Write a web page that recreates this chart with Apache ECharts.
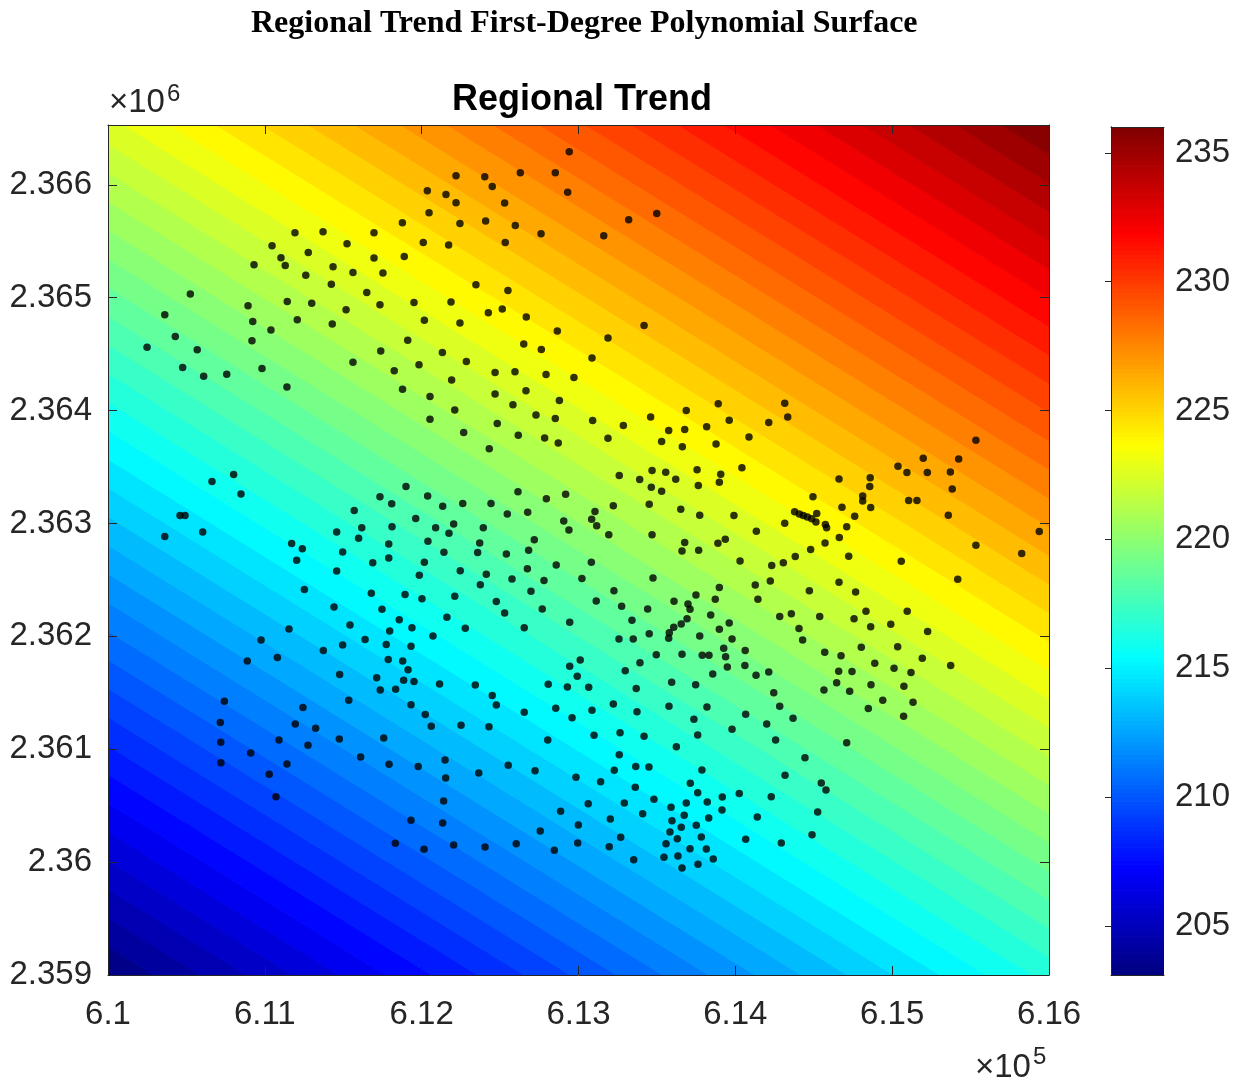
<!DOCTYPE html>
<html>
<head>
<meta charset="utf-8">
<title>Regional Trend</title>
<script src="https://cdn.jsdelivr.net/npm/echarts@6/dist/echarts.min.js"></script>
<style>
html,body{margin:0;padding:0;background:#fff;}
#chart{width:1241px;height:1084px;}
</style>
</head>
<body>
<div id="chart"></div>
<script>
// sample locations (easting, northing in metres)
var pointsNorth = [
  [612036,2365947],[612047,2365752],[611877,2365663],[612010,2365489],[611889,2365365],[611192,2365575],[611371,2365584],[611696,2365575],
  [611046,2365460],[611277,2365400],[611524,2365477],[611103,2365353],[611130,2365285],[610931,2365291],[611435,2365274],[611696,2365351],
  [611562,2365223],[611753,2365218],[611261,2365200],[611424,2365120],[611650,2365046],[610525,2365032],[610893,2364928],[611143,2364966],
  [611299,2364952],[611518,2364893],[611734,2364937],[611951,2364957],[610362,2364848],[610923,2364789],[611207,2364804],[611430,2364766],
  [612017,2364801],[610429,2364656],[611039,2364715],[610918,2364618],[611911,2364624],[610249,2364562],[610569,2364538],[611739,2364527],
  [610476,2364381],[610610,2364305],[610757,2364323],[610982,2364372],[611562,2364429],[611825,2364352],[611983,2364405],[611141,2364210],
  [611878,2364188],
  [612941,2366293],[612219,2366080],[612402,2366071],[612450,2365985],[612629,2366107],[612852,2366107],[612931,2365935],[612155,2365914],
  [612219,2365841],[612529,2365838],[612244,2365657],[612408,2365679],[612597,2365639],[612761,2365566],[613320,2365690],[613499,2365746],
  [613161,2365548],[612172,2365466],[612533,2365489],[612346,2365114],[612550,2365064],[612187,2364961],[612425,2364866],[612514,2364899],
  [612667,2364828],[612244,2364777],[613418,2364753],[612865,2364706],[613188,2364644],[612651,2364591],[612763,2364541],[612132,2364514],
  [612285,2364434],[613086,2364465],[612468,2364337],[612595,2364343],[612793,2364319],[612971,2364293],[612191,2364272],[612665,2364175]
];
var pointsMiddle = [
  [612053,2364124],[612053,2363924],[610663,2363371],[610801,2363433],[610848,2363262],[610459,2363070],[610491,2363070],[610362,2362884],
  [610604,2362925],[611900,2363327],[611734,2363236],[611809,2363174],[612038,2363244],[611570,2363114],[611962,2363043],[611618,2362963],
  [611811,2362970],[612089,2362963],[611458,2362925],[611598,2362870],[612040,2362843],[611171,2362822],[611239,2362775],[611790,2362819],
  [611496,2362748],[611203,2362675],[611688,2362653],[611790,2362695],[612017,2362657],[611458,2362580],[611985,2362542],[611252,2362414],
  [611679,2362382],[611894,2362370],[612002,2362334],[611441,2362261],[611747,2362240],[611857,2362148],[611154,2362066],[611543,2362101],
  [611796,2362048],[611938,2362077],[612072,2362004],[610976,2361968],[611639,2361973],
  [612468,2364146],[612582,2364051],[612878,2364089],[612211,2364006],[612729,2363960],[612852,2363929],[612482,2363885],[613090,2363912],
  [613460,2363944],[613687,2364000],[613891,2364060],[613961,2363915],[613286,2363867],[613575,2363823],[613677,2363832],[613817,2363856],
  [614087,2363765],[612268,2363805],[612616,2363782],[612784,2363758],[612871,2363714],[613188,2363756],[613530,2363726],[613662,2363679],
  [613877,2363703],[612431,2363661],[614042,2363493],[613260,2363424],[613390,2363389],[613469,2363469],[613556,2363454],[613620,2363392],
  [613756,2363475],[613907,2363437],[613898,2363366],[613764,2363336],[613464,2363321],[613530,2363286],[612614,2363280],[612918,2363259],
  [612795,2363218],[612134,2363153],[612262,2363176],[612442,2363176],[613222,2363156],[613451,2363171],[612546,2363085],[612676,2363100],
  [613105,2363105],[613084,2363038],[612906,2363023],[613652,2363127],[613773,2363073],[613991,2363070],[612204,2362996],[612174,2362914],
  [612393,2362963],[612939,2362943],[613116,2362979],[613193,2362899],[613469,2362899],[612718,2362855],[612370,2362828],[612142,2362745],
  [612357,2362742],[612540,2362730],[612682,2362763],[613677,2362831],[613889,2362825],[613936,2362861],[613660,2362757],[613766,2362763],
  [614030,2362668],[613082,2362657],[612858,2362633],[612674,2362598],[612246,2362582],[612412,2362551],[612374,2362458],[612576,2362509],
  [612780,2362494],[613022,2362512],[613475,2362518],[612697,2362400],[612211,2362356],[613226,2362405],[613898,2362432],[613749,2362367],
  [612476,2362308],[613113,2362314],[613609,2362311],[613698,2362287],[613711,2362240],[613872,2362329],[612529,2362208],[612769,2362243],
  [613275,2362267],[613441,2362243],[613692,2362157],[613843,2362190],[612161,2362170],[613341,2362143],[613655,2362110],[613607,2362081],
  [613961,2362119],[612278,2362072],[612654,2362077],[612944,2362125],[613898,2362063],[613451,2362022],[613579,2362033],[613575,2361984],
  [613258,2361977],[613349,2361977],[613773,2362004],[613979,2361977],
  [614315,2364066],[614334,2363944],[614213,2363894],[615534,2363738],[615198,2363578],[615424,2363572],[615037,2363508],[615094,2363451],
  [615224,2363451],[615371,2363457],[615383,2363306],[614661,2363395],[614860,2363404],[614857,2363327],[614495,2363236],[614812,2363244],
  [614812,2363200],[615105,2363203],[615158,2363203],[614680,2363144],[614863,2363141],[615358,2363073],[614378,2363103],[614408,2363085],
  [614433,2363070],[614459,2363058],[614487,2363041],[614514,2363014],[614519,2363088],[614574,2362990],[614582,2362963],[614761,2363065],
  [614315,2363003],[614134,2362932],[614710,2362970],[615938,2362928],[614663,2362875],[614572,2362828],[615534,2362808],[615826,2362733],
  [614480,2362769],[614382,2362707],[614723,2362710],[615058,2362666],[614306,2362651],[614232,2362627],[614127,2362456],[614223,2362491],
  [614661,2362480],[615418,2362506],[614472,2362405],[614767,2362394],[614144,2362329],[614833,2362223],[615096,2362223],[614357,2362201],
  [614283,2362175],[614538,2362175],[614757,2362155],[614991,2362108],[614863,2362086],[614406,2362069],[615226,2362042],[614429,2361968]
];
var pointsSouth = [
  [611774,2361927],[611932,2361913],[611496,2361924],[611373,2361874],[610888,2361782],[611080,2361812],[611787,2361794],[611879,2361782],
  [611913,2361705],[611477,2361661],[611713,2361634],[611885,2361611],[611951,2361599],[612114,2361579],[611736,2361525],[611834,2361532],
  [611535,2361434],[611932,2361395],[612023,2361307],[612061,2361204],[610742,2361425],[611243,2361369],[610716,2361236],[611194,2361224],
  [611324,2361186],[610719,2361062],[611090,2361082],[611275,2361035],[611475,2361091],[611758,2361100],[610910,2360967],[610720,2360881],
  [611141,2360870],[611611,2360932],[611792,2360867],[611978,2360846],[611028,2360778],[611071,2360580],[611932,2360371],[611832,2360167],
  [612015,2360114],
  [613926,2361895],[614063,2361874],[613496,2361838],[613660,2361842],[613789,2361833],[613832,2361833],[613938,2361820],[613949,2361729],
  [614061,2361741],[613011,2361791],[613392,2361767],[612944,2361735],[613298,2361696],[612992,2361647],[613856,2361667],[612342,2361570],
  [612807,2361576],[612929,2361552],[613065,2361549],[613368,2361537],[613594,2361594],[613747,2361572],[612450,2361475],[612476,2361392],
  [612654,2361328],[612855,2361363],[613086,2361345],[613222,2361401],[613373,2361333],[613577,2361381],[613819,2361375],[614066,2361310],
  [612959,2361280],[613736,2361266],[612251,2361213],[612429,2361200],[613099,2361124],[613265,2361147],[613418,2361115],[613760,2361127],
  [613979,2361177],[612804,2361082],[613624,2361023],[613260,2360952],[612149,2360905],[612153,2360746],[612364,2360790],[612552,2360858],
  [612723,2360810],[612984,2360752],[613141,2360713],[613228,2360814],[613365,2360846],[613449,2360843],[613787,2360817],[613362,2360663],
  [613713,2360699],[613760,2360615],[613917,2360577],[614025,2360607],[612140,2360542],[613062,2360518],[613292,2360524],[613481,2360557],
  [613590,2360486],[613687,2360524],[613821,2360533],[613915,2360462],[612886,2360451],[613409,2360429],[613674,2360415],[613830,2360391],
  [612134,2360347],[613203,2360382],[613596,2360367],[612999,2360329],[613655,2360309],[613751,2360326],[612756,2360276],[613583,2360267],
  [613269,2360220],[613630,2360208],[613783,2360223],[614066,2360202],[612204,2360152],[612404,2360134],[612603,2360163],[612995,2360170],
  [613196,2360137],[613558,2360163],[613711,2360119],[613815,2360116],[612846,2360105],[613545,2360043],[613634,2360054],[613859,2360028],
  [613352,2360022],[613660,2359948],[613762,2359981],
  [614570,2361859],[614674,2361829],[614803,2361904],[615035,2361909],[615192,2361806],[615373,2361741],[614889,2361762],[615012,2361718],
  [615120,2361679],[614659,2361691],[614744,2361688],[614132,2361656],[614213,2361685],[614646,2361590],[614565,2361525],[614729,2361514],
  [614865,2361572],[615075,2361558],[614245,2361501],[614940,2361434],[615133,2361416],[614283,2361381],[614368,2361275],[614848,2361360],
  [615073,2361292],[614200,2361224],[614257,2361082],[614710,2361058],[614444,2360925],[614317,2360770],[614548,2360701],[614578,2360639],
  [614229,2360580],[614140,2360400],[614525,2360444],[614489,2360243],[614293,2360170]
];

// first-degree trend surface: z = base + sx*(x - x0) + sy*(y - y0)
var trendOrigin = [610000, 2359000];
var trendBase = 203.1;
var trendSlopeX = 0.002233;
var trendSlopeY = 0.002592;

var xExtent = [610000, 616000];
var yExtent = [2359000, 2366530];
var xTicks = [610000, 611000, 612000, 613000, 614000, 615000, 616000];
var yTicks = [2359000, 2360000, 2361000, 2362000, 2363000, 2364000, 2365000, 2366000];
var colorExtent = [203.1, 236.0];
var colorTicks = [205, 210, 215, 220, 225, 230, 235];
var levelCount = 50;
var jetColors = ['#00007f', '#0000ff', '#007fff', '#00ffff', '#7fff7f', '#ffff00', '#ff7f00', '#ff0000', '#7f0000'];

var ink = '#262626';
var sansFont = '"Liberation Sans", Arial, sans-serif';

function trend(p) {
  return trendBase + trendSlopeX * (p[0] - trendOrigin[0]) + trendSlopeY * (p[1] - trendOrigin[1]);
}

// keep the part of a polygon where f >= 0
function clipPoly(poly, f) {
  var out = [];
  for (var i = 0; i < poly.length; i++) {
    var p = poly[i], q = poly[(i + 1) % poly.length];
    var fp = f(p), fq = f(q);
    if (fp >= 0) out.push(p);
    if ((fp >= 0) !== (fq >= 0)) {
      var t = fp / (fp - fq);
      out.push([p[0] + t * (q[0] - p[0]), p[1] + t * (q[1] - p[1])]);
    }
  }
  return out;
}

var bandData = [];
var step = (colorExtent[1] - colorExtent[0]) / levelCount;
for (var k = 0; k < levelCount; k++) {
  var lo = colorExtent[0] + k * step;
  var hi = (k === levelCount - 1) ? colorExtent[1] + 5 : lo + step;
  bandData.push([k === 0 ? lo - 5 : lo, hi, lo + step / 2]);
}

var barData = [];
var barSteps = 200;
var barStep = (colorExtent[1] - colorExtent[0]) / barSteps;
for (var j = 0; j < barSteps; j++) {
  var b0 = colorExtent[0] + j * barStep;
  barData.push([b0, b0 + barStep, b0 + barStep / 2]);
}

var allPoints = pointsNorth.concat(pointsMiddle, pointsSouth);

var myChart = echarts.init(document.getElementById('chart'));

function boxAxis(extra) {
  var base = {
    type: 'value',
    z: 10,
    splitLine: { show: false },
    axisLine: { show: true, lineStyle: { color: ink, width: 1 } },
    axisTick: { show: true, inside: true, length: 9, lineStyle: { color: ink, width: 1 } },
    axisLabel: { show: false }
  };
  return Object.assign(base, extra);
}

var labelStyle = { color: ink, fontSize: 33, fontFamily: sansFont };

option = {
  animation: false,
  backgroundColor: '#ffffff',
  title: [
    {
      text: 'Regional Trend First-Degree Polynomial Surface',
      left: 251, top: 8, padding: 0,
      textStyle: { fontFamily: '"Liberation Serif", "Times New Roman", serif', fontWeight: 'bold', fontSize: 32, color: '#000' }
    },
    {
      text: 'Regional Trend',
      left: 577, top: 77, textAlign: 'center',
      textStyle: { fontFamily: sansFont, fontWeight: 'bold', fontSize: 36, color: '#000' }
    }
  ],
  graphic: [
    { type: 'text', left: 109, top: 86, style: { text: '×10', fontSize: 33, fontFamily: sansFont, fill: ink } },
    { type: 'text', left: 167, top: 82, style: { text: '6', fontSize: 24, fontFamily: sansFont, fill: ink } },
    { type: 'text', left: 975, top: 1051, style: { text: '×10', fontSize: 33, fontFamily: sansFont, fill: ink } },
    { type: 'text', left: 1033, top: 1045, style: { text: '5', fontSize: 24, fontFamily: sansFont, fill: ink } }
  ],
  grid: [
    { left: 108, top: 125, width: 941, height: 850 },
    { left: 1111, top: 127, width: 53, height: 848 }
  ],
  xAxis: [
    boxAxis({
      gridIndex: 0, position: 'bottom', min: xExtent[0], max: xExtent[1], interval: 1000,
      axisLabel: Object.assign({ show: true, margin: 23, formatter: function (v) { return String(+(v / 1e5).toFixed(2)); } }, labelStyle)
    }),
    boxAxis({ gridIndex: 0, position: 'top', min: xExtent[0], max: xExtent[1], interval: 1000 }),
    boxAxis({ gridIndex: 1, position: 'bottom', min: 0, max: 1, axisTick: { show: false } }),
    boxAxis({ gridIndex: 1, position: 'top', min: 0, max: 1, axisTick: { show: false } })
  ],
  yAxis: [
    boxAxis({
      gridIndex: 0, position: 'left', min: yExtent[0], max: yExtent[1],
      axisTick: { show: true, inside: true, length: 9, customValues: yTicks, lineStyle: { color: ink } },
      axisLabel: Object.assign({ show: true, margin: 16, customValues: yTicks, formatter: function (v) { return String(+(v / 1e6).toFixed(3)); } }, labelStyle)
    }),
    boxAxis({
      gridIndex: 0, position: 'right', min: yExtent[0], max: yExtent[1],
      axisTick: { show: true, inside: true, length: 9, customValues: yTicks, lineStyle: { color: ink } }
    }),
    boxAxis({ gridIndex: 1, position: 'left', min: colorExtent[0], max: colorExtent[1], axisTick: { show: false } }),
    boxAxis({
      gridIndex: 1, position: 'right', min: colorExtent[0], max: colorExtent[1],
      axisTick: { show: true, inside: true, length: 6, customValues: colorTicks, lineStyle: { color: ink } },
      axisLabel: Object.assign({ show: true, margin: 11, customValues: colorTicks }, labelStyle)
    })
  ],
  visualMap: {
    show: false,
    type: 'continuous',
    min: colorExtent[0],
    max: colorExtent[1],
    dimension: 2,
    seriesIndex: [0, 2],
    inRange: { color: jetColors }
  },
  series: [
    {
      name: 'trend surface',
      type: 'custom',
      xAxisIndex: 0, yAxisIndex: 0,
      coordinateSystem: 'cartesian2d',
      clip: true,
      z: 1,
      silent: true,
      encode: { x: -1, y: -1 },
      data: bandData,
      renderItem: function (params, api) {
        var lo = api.value(0), hi = api.value(1);
        var poly = [[xExtent[0], yExtent[0]], [xExtent[1], yExtent[0]], [xExtent[1], yExtent[1]], [xExtent[0], yExtent[1]]];
        poly = clipPoly(poly, function (p) { return trend(p) - lo; });
        poly = clipPoly(poly, function (p) { return hi - trend(p); });
        if (poly.length < 3) return;
        var color = api.visual('color');
        return {
          type: 'polygon',
          shape: { points: poly.map(function (p) { return api.coord(p); }) },
          style: { fill: color, stroke: color, lineWidth: 1 }
        };
      }
    },
    {
      name: 'samples',
      type: 'scatter',
      xAxisIndex: 0, yAxisIndex: 0,
      symbol: 'circle',
      symbolSize: 7.5,
      z: 5,
      silent: true,
      itemStyle: { color: '#000000' },
      data: allPoints
    },
    {
      name: 'colorbar',
      type: 'custom',
      xAxisIndex: 2, yAxisIndex: 2,
      coordinateSystem: 'cartesian2d',
      clip: true,
      z: 1,
      silent: true,
      encode: { x: -1, y: -1 },
      data: barData,
      renderItem: function (params, api) {
        var p0 = api.coord([0, api.value(0)]);
        var p1 = api.coord([1, api.value(1)]);
        var color = api.visual('color');
        return {
          type: 'rect',
          shape: { x: p0[0], y: p1[1], width: p1[0] - p0[0], height: p0[1] - p1[1] },
          style: { fill: color, stroke: color, lineWidth: 1 }
        };
      }
    }
  ]
};

myChart.setOption(option);
window.addEventListener('resize', function () { myChart.resize(); });
</script>
</body>
</html>
